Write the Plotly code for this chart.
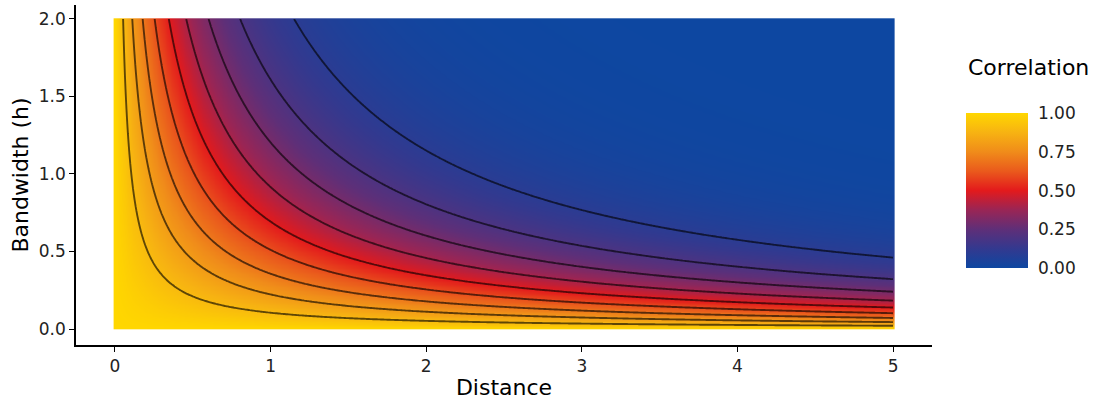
import numpy as np
import plotly.graph_objects as go

# Grid of the surface (distance along x, bandwidth along y)
distance = np.linspace(0, 5, 301)
bandwidth = np.linspace(0, 2, 241)
# Correlation model: corr = exp(-distance * bandwidth)
correlation = np.exp(-np.outer(bandwidth, distance))

contour_levels = [0.1, 0.2, 0.3, 0.4, 0.5, 0.6, 0.7, 0.8, 0.9]
x_ticks = [0, 1, 2, 3, 4, 5]
y_ticks = [0.0, 0.5, 1.0, 1.5, 2.0]
y_tick_labels = ["0.0", "0.5", "1.0", "1.5", "2.0"]
cbar_ticks = [0.0, 0.25, 0.5, 0.75, 1.0]
cbar_tick_labels = ["0.00", "0.25", "0.50", "0.75", "1.00"]

colorscale = [
    [0.0, "#0D47A1"],
    [0.125, "#33398F"],
    [0.25, "#5F2F78"],
    [0.375, "#9A2555"],
    [0.5, "#E31A1C"],
    [0.625, "#EA5A1C"],
    [0.75, "#F08C1A"],
    [0.875, "#F7B312"],
    [1.0, "#FFD700"],
]

FONT = "DejaVu Sans"

fig = go.Figure()

fig.add_trace(
    go.Heatmap(
        x=distance,
        y=bandwidth,
        z=correlation,
        zmin=0,
        zmax=1,
        zsmooth="best",
        colorscale=colorscale,
        colorbar=dict(
            x=1.0397,
            xanchor="left",
            xpad=0,
            y=0.454,
            yanchor="middle",
            ypad=0,
            len=155,
            lenmode="pixels",
            thickness=62,
            thicknessmode="pixels",
            outlinewidth=0,
            tickvals=cbar_ticks,
            ticktext=cbar_tick_labels,
            ticks="outside",
            ticklen=7,
            tickcolor="rgba(255,255,255,0)",
            tickfont=dict(family=FONT, size=17, color="#222222"),
        ),
        hoverinfo="skip",
    )
)

fig.add_trace(
    go.Contour(
        x=distance,
        y=bandwidth,
        z=correlation,
        showscale=False,
        contours=dict(
            start=contour_levels[0],
            end=contour_levels[-1],
            size=0.1,
            coloring="none",
        ),
        line=dict(color="rgba(0,0,0,0.62)", width=1.9),
        hoverinfo="skip",
    )
)

fig.add_annotation(
    text="Correlation",
    xref="paper",
    yref="paper",
    x=1.0397,
    y=0.815,
    xanchor="left",
    yanchor="middle",
    showarrow=False,
    font=dict(family=FONT, size=22, color="#000000"),
)

fig.update_layout(
    width=1093,
    height=400,
    margin=dict(l=76, r=161, t=5, b=55, autoexpand=False),
    paper_bgcolor="white",
    plot_bgcolor="white",
    font=dict(family=FONT, color="#222222"),
    xaxis=dict(
        range=[-0.25, 5.25],
        tickvals=x_ticks,
        showgrid=False,
        zeroline=False,
        showline=True,
        linecolor="black",
        linewidth=1.5,
        ticks="outside",
        ticklen=5,
        tickcolor="black",
        tickfont=dict(family=FONT, size=17, color="#222222"),
        title=dict(text="Distance", font=dict(family=FONT, size=22, color="#000000"), standoff=5),
    ),
    yaxis=dict(
        range=[-0.103, 2.09],
        tickvals=y_ticks,
        ticktext=y_tick_labels,
        showgrid=False,
        zeroline=False,
        showline=True,
        linecolor="black",
        linewidth=1.5,
        ticks="outside",
        ticklen=5,
        tickcolor="black",
        tickfont=dict(family=FONT, size=17, color="#222222"),
        title=dict(text="Bandwidth (h)", font=dict(family=FONT, size=22, color="#000000"), standoff=4),
    ),
)

fig.write_html("out.html")
